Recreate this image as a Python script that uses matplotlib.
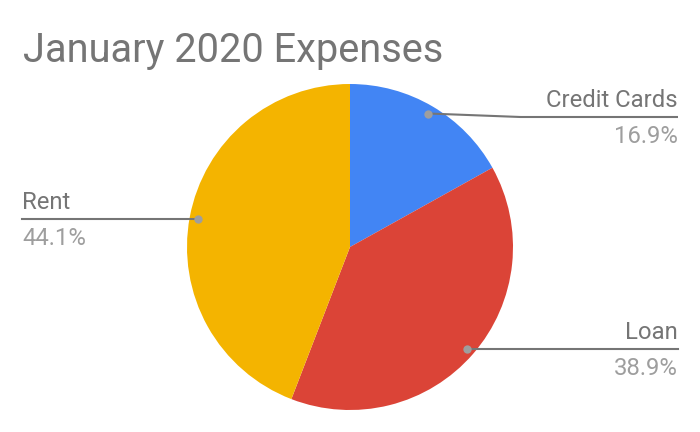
import numpy as np
import matplotlib
matplotlib.use("Agg")
import matplotlib.pyplot as plt

title = "January 2020 Expenses"
categories = ["Credit Cards", "Loan", "Rent"]
values = [16.9, 38.9, 44.1]
colors = ["#4285F4", "#DB4437", "#F4B400"]

W, H = 700, 432
plt.rcParams['font.family'] = ['Roboto', 'DejaVu Sans']

fig = plt.figure(figsize=(W / 100, H / 100), dpi=100)
ax = fig.add_axes([0, 0, 1, 1])

cx, cy, R = 350, H - 247, 163
wedges, _ = ax.pie(values, colors=colors, startangle=90, counterclock=False,
                   center=(cx, cy), radius=R, frame=False,
                   wedgeprops=dict(linewidth=0))
ax.set_xlim(0, W)
ax.set_ylim(0, H)
ax.set_aspect('equal')
ax.axis('off')

fig.text(23 / W, 1 - 62 / H, title, fontsize=28.6, color="#757575",
         ha='left', va='baseline')

# label layout: (side, line y in px from top, text x)
layout = {
    "Credit Cards": ("right", 117, 678),
    "Loan": ("right", None, 678),
    "Rent": ("left", None, 22),
}
line_col = "#757575"
dot_col = "#9E9E9E"
fs = 17.2
for w, cat, val in zip(wedges, categories, values):
    mid = np.deg2rad((w.theta1 + w.theta2) / 2)
    dx = cx + 0.95 * R * np.cos(mid)
    dy = cy + 0.95 * R * np.sin(mid)
    side, ly, tx = layout[cat]
    ly = dy if ly is None else H - ly
    if side == "right":
        if abs(ly - dy) > 1:
            kx = dx + 92
            ax.plot([dx, kx, tx], [dy, ly, ly], color=line_col, lw=1.5,
                    solid_capstyle='butt')
        else:
            ax.plot([dx, tx], [ly, ly], color=line_col, lw=1.5)
        ha = 'right'
    else:
        ax.plot([tx, dx], [ly, ly], color=line_col, lw=1.5)
        ha = 'left'
    ax.plot([dx], [dy], 'o', color=dot_col, ms=6, mec='none', zorder=5)
    ax.text(tx, ly + 10, cat, fontsize=fs, color="#757575", ha=ha,
            va='baseline')
    ax.text(tx, ly - 26, f"{val}%", fontsize=fs, color="#9E9E9E", ha=ha,
            va='baseline')

fig.savefig("out.png", dpi=100, facecolor="white")
